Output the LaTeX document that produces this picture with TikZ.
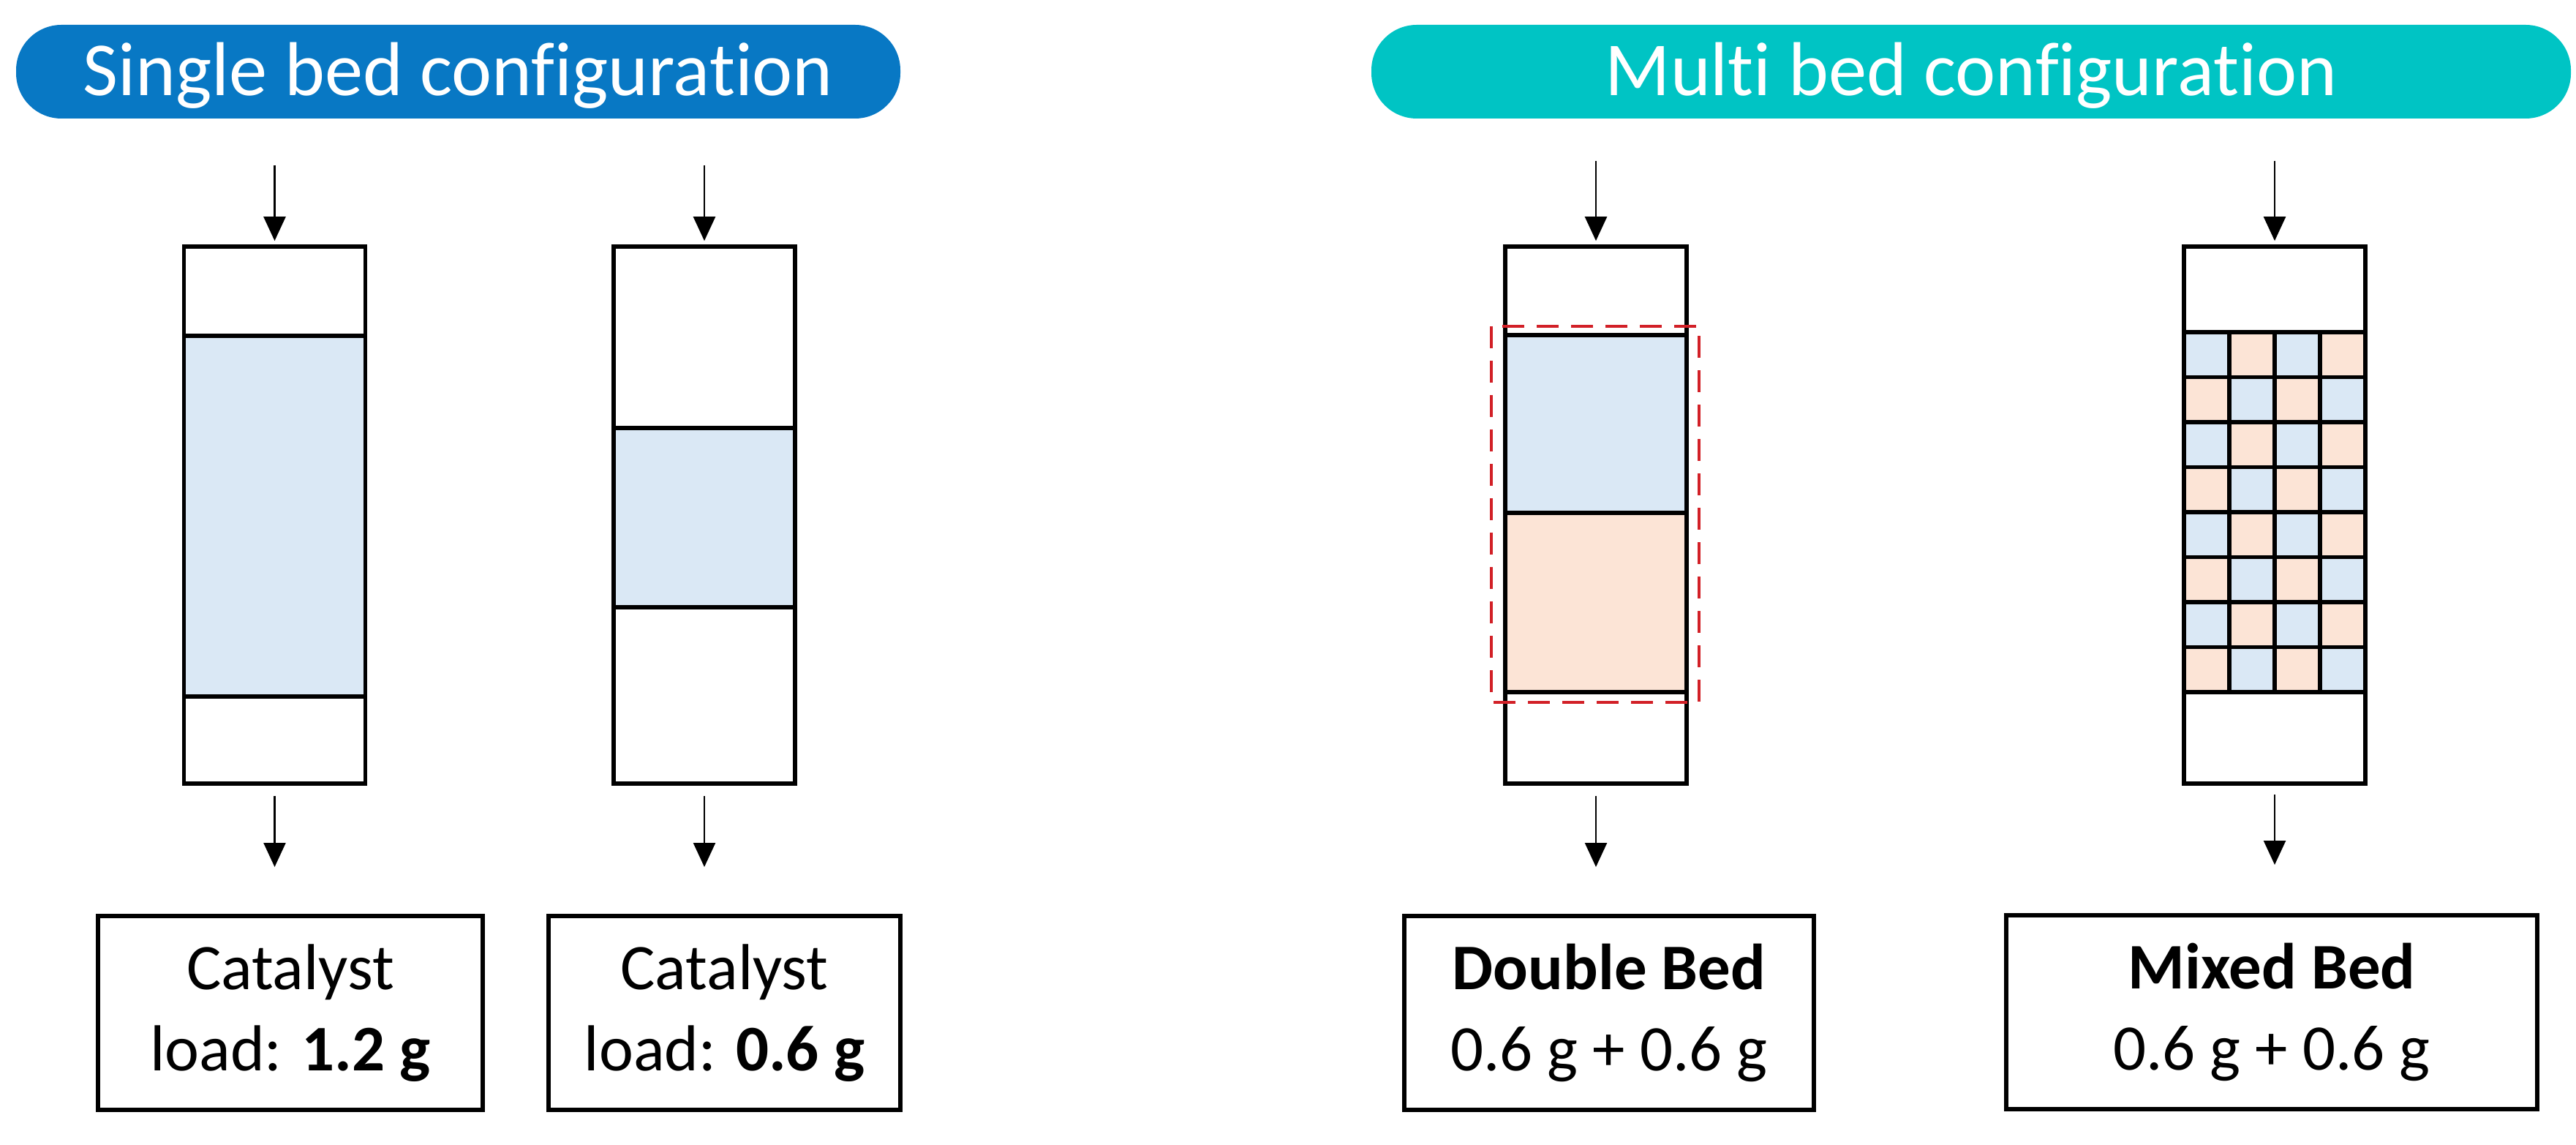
\documentclass[tikz,border=0pt]{standalone}
\usepackage{fontspec}
\setmainfont{Carlito}[Ligatures=NoCommon]
\usetikzlibrary{arrows.meta}
\definecolor{pillblue}{RGB}{8,120,196}
\definecolor{pillteal}{RGB}{0,196,196}
\definecolor{bedblue}{RGB}{218,232,245}
\definecolor{bedpeach}{RGB}{252,228,214}
\definecolor{dashred}{RGB}{210,32,39}

\begin{document}
\begin{tikzpicture}[
  pill/.style={rounded corners=0.62cm,minimum height=1.28cm,inner sep=0pt,text=white,
    text height=0.66cm,text depth=0pt,font=\fontsize{29.7}{34}\selectfont},
  column/.style={draw,line width=1.6pt,minimum width=2.48cm,minimum height=7.34cm,inner sep=0pt},
  bed/.style={draw,line width=1.6pt},
  loadbox/.style={draw,line width=1.6pt,align=center,minimum height=2.65cm,inner sep=0pt,
    font=\fontsize{25.3}{31.5}\selectfont},
  flow/.style={-{Triangle[length=0.33cm,width=0.3cm]},line width=0.7pt}
]
\useasboundingbox (0,0) rectangle (35.22,15.64);

\node[pill,fill=pillblue,minimum width=12.09cm] (single) at (6.265,14.66) {Single bed configuration};
\node[pill,fill=pillteal,minimum width=16.40cm] (multi) at (26.95,14.66) {Multi bed configuration};

% catalyst beds
\draw[bed,fill=bedblue] (2.515,11.05) rectangle (4.995,6.12);
\draw[bed,fill=bedblue] (8.39,9.79) rectangle (10.87,7.34);
\draw[bed,fill=bedblue] (20.58,11.06) rectangle (23.06,8.63);
\draw[bed,fill=bedpeach] (20.58,8.63) rectangle (23.06,6.18);
\foreach \r in {0,...,7}{
  \foreach \c in {0,...,3}{
    \pgfmathtruncatemacro\k{mod(\r+\c,2)}
    \ifnum\k=0 \def\cellcol{bedblue}\else\def\cellcol{bedpeach}\fi
    \draw[bed,fill=\cellcol] (29.86+0.62*\c,11.10-0.615*\r) rectangle (30.48+0.62*\c,10.485-0.615*\r);
  }
}

\node[column] (col1) at (3.755,8.60) {};
\node[column] (col2) at (9.63,8.60) {};
\node[column] (col3) at (21.82,8.60) {};
\node[column] (col4) at (31.10,8.60) {};

\draw[dashred,line width=1.35pt,dash pattern=on 0.3cm off 0.17cm] (20.39,11.18) rectangle (23.23,6.04);

\coordinate (in1) at (3.755,13.38);
\coordinate (in2) at (9.63,13.38);
\coordinate (in3) at (21.82,13.44);
\coordinate (in4) at (31.10,13.44);
\coordinate (out1) at (3.755,3.79);
\coordinate (out2) at (9.63,3.79);
\coordinate (out3) at (21.82,3.79);
\coordinate (out4) at (31.10,3.82);

\draw[flow,shorten >=0.05cm] (in1) -- (col1);
\draw[flow,shorten >=0.05cm] (in2) -- (col2);
\draw[flow,shorten >=0.05cm] (in3) -- (col3);
\draw[flow,shorten >=0.05cm] (in4) -- (col4);
\draw[flow,shorten <=0.14cm] (col1) -- (out1);
\draw[flow,shorten <=0.14cm] (col2) -- (out2);
\draw[flow,shorten <=0.14cm] (col3) -- (out3);
\draw[flow,shorten <=0.12cm] (col4) -- (out4);

\node[loadbox,minimum width=5.26cm] (load1) at (3.97,1.795) {Catalyst\\load: \textbf{1.2 g}};
\node[loadbox,minimum width=4.81cm] (load2) at (9.905,1.795) {Catalyst\\load: \textbf{0.6 g}};
\node[loadbox,minimum width=5.60cm] (load3) at (22.00,1.795) {\textbf{Double Bed}\\0.6 g + 0.6 g};
\node[loadbox,minimum width=7.26cm] (load4) at (31.06,1.805) {\textbf{Mixed Bed}\\0.6 g + 0.6 g};
\end{tikzpicture}
\end{document}
